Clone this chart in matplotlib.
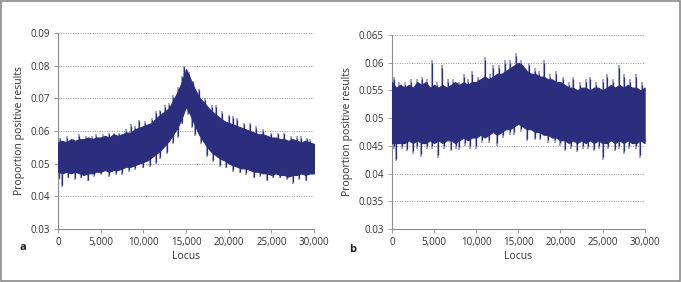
import numpy as np
import matplotlib
matplotlib.use('Agg')
import matplotlib.pyplot as plt
from matplotlib.patches import Rectangle

plt.rcParams['font.family'] = ['Open Sans', 'DejaVu Sans']

# loci sampled every 500
loci = list(range(0, 30001, 500))

# panel a: dense band, upper and lower edges
a_upper = [0.0565, 0.057, 0.0565, 0.0575, 0.057, 0.0575, 0.0575, 0.058, 0.0575, 0.058,
           0.058, 0.0585, 0.058, 0.059, 0.0585, 0.059, 0.0595, 0.0595, 0.0605, 0.061,
           0.0615, 0.062, 0.0625, 0.064, 0.065, 0.066, 0.067, 0.0695, 0.072, 0.075,
           0.079, 0.076, 0.073, 0.0705, 0.069, 0.0675, 0.066, 0.065, 0.064, 0.063,
           0.0625, 0.062, 0.0615, 0.061, 0.0605, 0.060, 0.0595, 0.059, 0.059, 0.0585,
           0.058, 0.058, 0.0575, 0.0575, 0.057, 0.0575, 0.057, 0.0565, 0.057, 0.0565, 0.056]
a_lower = [0.0475, 0.047, 0.0475, 0.047, 0.0475, 0.047, 0.0465, 0.047, 0.047, 0.0475,
           0.0475, 0.048, 0.0475, 0.048, 0.048, 0.0485, 0.049, 0.049, 0.0495, 0.050,
           0.0505, 0.051, 0.052, 0.053, 0.054, 0.0555, 0.057, 0.059, 0.061, 0.064,
           0.0675, 0.065, 0.062, 0.059, 0.057, 0.055, 0.0535, 0.0525, 0.0515, 0.051,
           0.050, 0.0495, 0.049, 0.0485, 0.0485, 0.048, 0.0475, 0.0475, 0.047, 0.047,
           0.0465, 0.047, 0.0465, 0.0465, 0.046, 0.0465, 0.0465, 0.047, 0.0465, 0.047, 0.047]

# panel a: spike tips beyond the band
a_spk_up_x = [200, 1000, 1800, 2500, 3300, 4000, 4500, 5300, 6000, 6500, 7200, 8000,
              8500, 9000, 9500, 10200, 11000, 11500, 12000, 12500, 13000, 13500, 14000,
              14500, 14800, 15300, 15800, 16500, 17200, 18000, 18500, 19200, 20000,
              20500, 21000, 21800, 22500, 23200, 24000, 25000, 25800, 26500, 27300,
              28000, 28500, 29200, 29500]
a_spk_up_y = [0.058, 0.0585, 0.0575, 0.059, 0.0585, 0.0585, 0.059, 0.059, 0.0595, 0.0595,
              0.0595, 0.0605, 0.062, 0.0615, 0.0635, 0.063, 0.064, 0.066, 0.0665, 0.068,
              0.0685, 0.071, 0.0735, 0.077, 0.080, 0.078, 0.0755, 0.073, 0.070, 0.068,
              0.068, 0.066, 0.065, 0.0645, 0.064, 0.0625, 0.0625, 0.0615, 0.0605, 0.0595,
              0.0595, 0.0595, 0.0585, 0.0585, 0.0585, 0.058, 0.0575]
a_spk_lo_x = [100, 500, 1200, 2000, 2700, 3500, 4200, 5000, 6000, 6800, 7500, 8300,
              9000, 10000, 10800, 11500, 12000, 12800, 13500, 14000, 14500, 15200,
              15700, 16000, 16700, 17500, 18200, 19000, 19700, 20500, 21300, 22000,
              23000, 23700, 24500, 25200, 26000, 26800, 27500, 28200, 29000, 29800]
a_spk_lo_y = [0.045, 0.0428, 0.0455, 0.045, 0.0455, 0.0445, 0.046, 0.0465, 0.046, 0.0465,
              0.0465, 0.0475, 0.048, 0.0485, 0.049, 0.050, 0.0515, 0.053, 0.056, 0.058,
              0.062, 0.065, 0.061, 0.0585, 0.056, 0.052, 0.0505, 0.049, 0.0485, 0.0475,
              0.047, 0.0465, 0.0455, 0.046, 0.0445, 0.0455, 0.0455, 0.045, 0.0438, 0.045,
              0.0445, 0.0465]

# panel b
b_upper = [0.0565, 0.0555, 0.056, 0.0555, 0.056, 0.0555, 0.0565, 0.056, 0.0565, 0.0555,
           0.056, 0.0555, 0.056, 0.0555, 0.056, 0.0565, 0.056, 0.0565, 0.056, 0.0565,
           0.0565, 0.057, 0.0575, 0.057, 0.0575, 0.058, 0.058, 0.0585, 0.059, 0.0595,
           0.060, 0.0595, 0.0585, 0.058, 0.058, 0.0575, 0.0575, 0.057, 0.057, 0.0565,
           0.0565, 0.056, 0.0555, 0.0555, 0.055, 0.0555, 0.0555, 0.055, 0.0555, 0.0555,
           0.055, 0.0555, 0.056, 0.0555, 0.056, 0.0555, 0.056, 0.0555, 0.0555, 0.055, 0.0555]
b_lower = [0.0455, 0.0455, 0.0455, 0.0455, 0.046, 0.0455, 0.046, 0.0455, 0.0455, 0.046,
           0.0455, 0.046, 0.0455, 0.046, 0.046, 0.0455, 0.046, 0.0465, 0.046, 0.0465,
           0.0465, 0.047, 0.0465, 0.047, 0.0475, 0.047, 0.0475, 0.048, 0.048, 0.0485,
           0.049, 0.0485, 0.048, 0.048, 0.0475, 0.0475, 0.047, 0.047, 0.0465, 0.0465,
           0.046, 0.046, 0.0455, 0.046, 0.0455, 0.046, 0.0455, 0.046, 0.0455, 0.046,
           0.0455, 0.0455, 0.046, 0.0455, 0.046, 0.0455, 0.046, 0.0455, 0.0455, 0.046, 0.0455]

b_spk_up_x = [200, 800, 1500, 2300, 3000, 3600, 4200, 4700, 5300, 5900, 6600, 7300,
              8000, 8500, 9000, 9500, 10200, 11000, 11600, 12000, 12700, 13400, 14000,
              14700, 15300, 16300, 17000, 17500, 18000, 18800, 19500, 20300, 21000,
              21500, 22300, 23000, 23500, 24200, 25000, 25500, 26200, 27000, 27600,
              28300, 29000, 29700]
b_spk_up_y = [0.0575, 0.0565, 0.0565, 0.057, 0.057, 0.0575, 0.057, 0.0605, 0.0565, 0.0595,
              0.057, 0.057, 0.0565, 0.058, 0.057, 0.0585, 0.0575, 0.061, 0.058, 0.0595,
              0.0595, 0.0605, 0.0605, 0.0617, 0.0605, 0.060, 0.059, 0.0585, 0.0605, 0.058,
              0.0585, 0.0575, 0.0565, 0.0575, 0.0565, 0.057, 0.0575, 0.0565, 0.057, 0.058,
              0.057, 0.0595, 0.058, 0.057, 0.058, 0.0565]
b_spk_lo_x = [200, 500, 1200, 1800, 2500, 3000, 3500, 4200, 4800, 5500, 6200, 7000,
              7600, 8000, 8700, 9300, 10000, 10700, 11500, 12500, 13200, 14000, 14500,
              15300, 16000, 17000, 17600, 18500, 19300, 20000, 20500, 21200, 22000,
              22700, 23300, 24000, 24600, 25000, 25700, 26500, 27000, 27500, 28200,
              29000, 29500]
b_spk_lo_y = [0.0445, 0.0422, 0.0445, 0.044, 0.0435, 0.0445, 0.043, 0.0445, 0.0445, 0.0428,
              0.0445, 0.044, 0.0445, 0.0442, 0.045, 0.0445, 0.0445, 0.0455, 0.0455, 0.045,
              0.0465, 0.047, 0.047, 0.0475, 0.0458, 0.046, 0.046, 0.0455, 0.0455, 0.045,
              0.044, 0.0445, 0.0438, 0.0445, 0.0445, 0.044, 0.0445, 0.0425, 0.0445, 0.044,
              0.0445, 0.0435, 0.0445, 0.0445, 0.0428]

xticks = [0, 5000, 10000, 15000, 20000, 25000, 30000]
xtick_labels = ['0', '5,000', '10,000', '15,000', '20,000', '25,000', '30,000']
a_yticks = [0.03, 0.04, 0.05, 0.06, 0.07, 0.08, 0.09]
a_ylabels = ['0.03', '0.04', '0.05', '0.06', '0.07', '0.08', '0.09']
b_yticks = [0.03, 0.035, 0.04, 0.045, 0.05, 0.055, 0.06, 0.065]
b_ylabels = ['0.03', '0.035', '0.04', '0.045', '0.05', '0.055', '0.06', '0.065']

dark = '#2b2e7c'
light = '#8a8ebe'
grey = '#8c8c8c'

fig = plt.figure(figsize=(6.81, 2.82), dpi=100)
fig.patches.append(Rectangle((0.001, 0.002), 0.997, 0.995, transform=fig.transFigure,
                             fill=False, edgecolor='#8a8a8a', lw=1.2))

ax1 = fig.add_axes([0.0852, 0.189, 0.376, 0.693])
ax2 = fig.add_axes([0.5756, 0.188, 0.371, 0.688])


def draw(ax, up, lo, sux, suy, slx, sly, yt, yl):
    # spikes start inside the band and stick out; lighter tips like the original
    mid_u = np.interp(sux, loci, up) - 0.001
    mid_l = np.interp(slx, loci, lo) + 0.001
    ax.vlines(sux, mid_u, suy, color=light, lw=1.1, zorder=2)
    ax.vlines(slx, mid_l, sly, color=light, lw=1.1, zorder=2)
    ax.fill_between(loci, lo, up, color=dark, lw=0.8, edgecolor=dark, zorder=3)
    ax.vlines(sux, mid_u, np.array(suy) - 0.0005, color=dark, lw=0.9, zorder=3)
    ax.vlines(slx, mid_l, np.array(sly) + 0.0005, color=dark, lw=0.9, zorder=3)
    ax.set_xlim(0, 30000)
    ax.set_ylim(yt[0], yt[-1])
    ax.set_xticks(xticks)
    ax.set_xticklabels(xtick_labels)
    ax.set_yticks(yt)
    ax.set_yticklabels(yl)
    ax.grid(axis='y', linestyle=(0, (1, 1.5)), color='#9a9a9a', lw=0.7, zorder=0)
    for s in ['top', 'right']:
        ax.spines[s].set_visible(False)
    for s in ['left', 'bottom']:
        ax.spines[s].set_color(grey)
        ax.spines[s].set_linewidth(0.8)
    ax.tick_params(labelsize=7, colors='#333333', length=3, width=0.6, pad=3)
    ax.tick_params(color=grey)
    ax.set_xlabel('Locus', fontsize=7.5, color='#333333', labelpad=2)
    ax.set_ylabel('Proportion positive results', fontsize=7.5, color='#333333', labelpad=4)


draw(ax1, a_upper, a_lower, a_spk_up_x, a_spk_up_y, a_spk_lo_x, a_spk_lo_y, a_yticks, a_ylabels)
draw(ax2, b_upper, b_lower, b_spk_up_x, b_spk_up_y, b_spk_lo_x, b_spk_lo_y, b_yticks, b_ylabels)

fig.text(0.029, 0.113, 'a', fontsize=8, fontweight='bold', color='#222222')
fig.text(0.512, 0.106, 'b', fontsize=8, fontweight='bold', color='#222222')

fig.savefig('out.png', dpi=100)
